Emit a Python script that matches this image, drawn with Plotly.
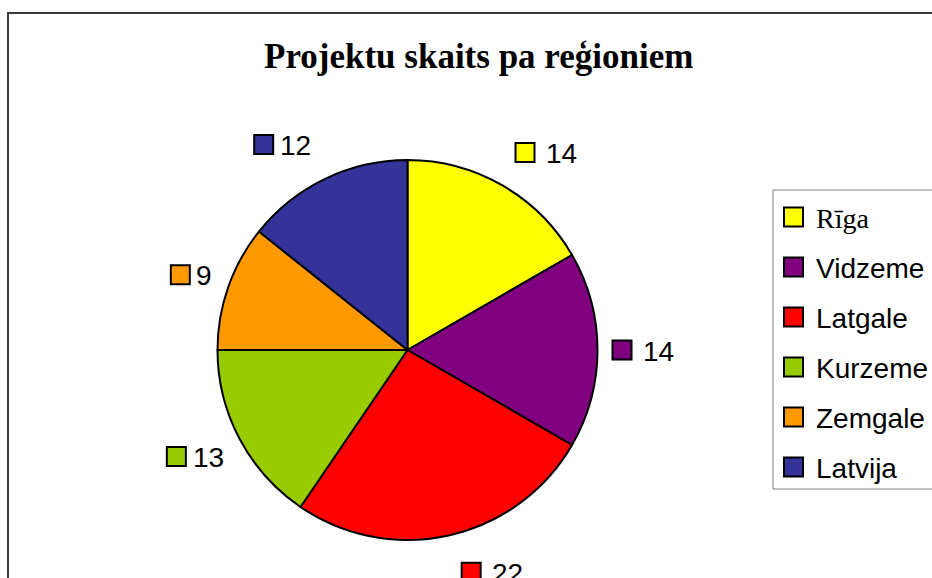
import math
import plotly.graph_objects as go

# ---- data ----
regions = ["Rīga", "Vidzeme", "Latgale", "Kurzeme", "Zemgale", "Latvija"]
projects = [14, 14, 22, 13, 9, 12]
colors = ["#FFFF00", "#800080", "#FF0000", "#99CC00", "#FF9900", "#333399"]
title_text = "Projektu skaits pa reģioniem"

# ---- geometry (pixels) ----
W, H = 932, 578
CX, CY, R = 407.5, 350, 190
SANS = "Liberation Sans, Arial, sans-serif"
SERIF = "Liberation Serif, Times New Roman, serif"


def px(x):
    return x / W


def py(y):
    return 1 - y / H


fig = go.Figure(
    go.Pie(
        labels=regions,
        values=projects,
        marker=dict(colors=colors, line=dict(color="black", width=2)),
        sort=False,
        direction="clockwise",
        rotation=0,
        textinfo="none",
        hoverinfo="label+value",
        domain=dict(x=[px(CX - R), px(CX + R)], y=[py(CY + R), py(CY - R)]),
        showlegend=False,
    )
)

shapes = []
annotations = []

# chart frame (extends beyond the visible window on the right and bottom)
shapes.append(dict(type="rect", xref="paper", yref="paper",
                   x0=px(8), x1=px(W + 20), y0=py(13), y1=py(H + 20),
                   line=dict(color="#3a3a3a", width=2), fillcolor="rgba(0,0,0,0)", layer="below"))

# title
annotations.append(dict(text="<b>" + title_text + "</b>", x=px(478), y=py(57),
                        xref="paper", yref="paper", xanchor="center", yanchor="middle",
                        showarrow=False, font=dict(family=SERIF, size=35, color="black")))

# data labels with colour keys
total = sum(projects)
cum = 0
FS = 28
for name, v, col in zip(regions, projects, colors):
    ang = (cum + v / 2) / total * 2 * math.pi
    cum += v
    s, c = math.sin(ang), math.cos(ang)
    ly = CY - 228 * c
    lx = CX + 194 * s + (10 if s >= 0 else -10)
    tw = len(str(v)) * 0.556 * FS
    if s >= 0:
        sq0 = lx
        tx, anchor = lx + 29, "left"
    else:
        tx, anchor = lx, "right"
        sq0 = lx - tw - 8 - 21
    shapes.append(dict(type="rect", xref="paper", yref="paper",
                       x0=px(sq0 + 1), x1=px(sq0 + 20), y0=py(ly + 9.5), y1=py(ly - 9.5),
                       line=dict(color="black", width=2), fillcolor=col))
    annotations.append(dict(text=str(v), x=px(tx), y=py(ly + 1), xref="paper", yref="paper",
                            xanchor=anchor, yanchor="middle", showarrow=False,
                            font=dict(family=SANS, size=FS, color="black")))

# legend box
shapes.append(dict(type="rect", xref="paper", yref="paper",
                   x0=px(773), x1=px(W + 30), y0=py(489), y1=py(190),
                   line=dict(color="#808080", width=1), fillcolor="white"))
for i, (name, col) in enumerate(zip(regions, colors)):
    yc = 217 + 50 * i
    shapes.append(dict(type="rect", xref="paper", yref="paper",
                       x0=px(784), x1=px(803), y0=py(yc + 9.5), y1=py(yc - 9.5),
                       line=dict(color="black", width=2), fillcolor=col))
    fam = SERIF if i == 0 else SANS
    annotations.append(dict(text=name, x=px(814), y=py(yc + 1), xref="paper", yref="paper",
                            xanchor="left", yanchor="middle", showarrow=False,
                            font=dict(family=fam, size=FS, color="black")))

fig.update_layout(
    width=W, height=H, autosize=False,
    margin=dict(l=0, r=0, t=0, b=0),
    paper_bgcolor="white", plot_bgcolor="white",
    showlegend=False,
    shapes=shapes, annotations=annotations,
)

fig.write_html(
    "out.html",
    config={"displayModeBar": False},
    post_script="document.body.style.margin='0';document.body.style.overflow='hidden';",
)
